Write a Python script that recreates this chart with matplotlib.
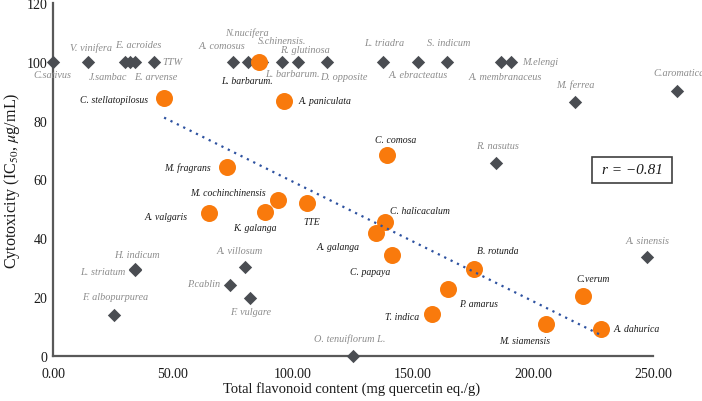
import numpy as np
import matplotlib
matplotlib.use("Agg")
import matplotlib.pyplot as plt
from matplotlib.patches import Rectangle

# Plants without a significant flavonoid/cytotoxicity relation (grey diamonds)
gray_names = ["C.sativus", "V. vinifera", "J.sambac", "E. acroides", "E. arvense", "TTW",
              "A. comosus", "N.nucifera", "L. barbarum.", "S.chinensis.", "R. glutinosa",
              "D. opposite", "L. triadra", "A. ebracteatus", "S. indicum", "A. membranaceus",
              "M.elengi", "M. ferrea", "C.aromatica", "R. nasutus", "A. sinensis",
              "H. indicum", "L. striatum", "F. albopurpurea", "A. villosum", "P.cablin",
              "F. vulgare", "O. tenuiflorum L."]
gray_x = [0.0, 14.6, 30.0, 32.0, 34.0, 42.0,
          75.0, 81.3, 87.0, 95.4, 102.0,
          114.0, 137.5, 152.0, 164.0, 186.7,
          191.0, 217.5, 260.0, 184.6, 247.5,
          34.2, 34.0, 25.4, 80.0, 73.8,
          82.0, 125.0]
gray_y = [100, 100, 100, 100, 100, 100,
          100, 100, 100, 100, 100,
          100, 100, 100, 100, 100,
          100, 86.4, 90.0, 65.6, 33.7,
          29.3, 29.5, 13.9, 30.3, 24.1,
          19.8, 0.0]

# Plants used for the correlation (orange circles)
orange_names = ["L. barbarum.", "A. paniculata", "C. stellatopilosus", "C. comosa", "M. fragrans",
                "M. cochinchinensis", "A. valgaris", "K. galanga", "TTE", "C. halicacalum",
                "A. galanga", "C. papaya", "B. rotunda", "P. amarus", "T. indica",
                "C.verum", "M. siamensis", "A. dahurica"]
orange_x = [86.0, 96.3, 46.3, 139.0, 72.3,
            93.8, 65.0, 88.3, 106.0, 138.3,
            134.6, 141.2, 175.4, 164.6, 158.0,
            221.0, 205.4, 228.3]
orange_y = [100.0, 86.7, 87.8, 68.4, 64.3,
            53.0, 48.6, 49.0, 52.0, 45.5,
            41.8, 34.4, 29.6, 22.8, 14.3,
            20.4, 10.9, 9.2]

r_value = -0.81
x_ticks = [0, 50, 100, 150, 200, 250]
y_ticks = [0, 20, 40, 60, 80, 100, 120]

# label placement (pixel offsets from the marker, alignment)
gray_offsets = [(-1, -13, "center"), (3, 15, "center"), (-17, -15, "center"), (9, 17, "center"),
                (21, -15, "center"), (9, 0, "left"), (-11, 16, "center"), (-1, 30, "center"),
                (31, -12, "center"), (0, 21, "center"), (7, 12, "center"), (17, -15, "center"),
                (1, 19, "center"), (0, -13, "center"), (2, 19, "center"), (4, -15, "center"),
                (11, 0, "left"), (0, 18, "center"), (2, 19, "center"), (1, 18, "center"),
                (1, 16, "center"), (2, 15, "center"), (-9, -2, "right"), (1, 19, "center"),
                (-5, 16, "center"), (-10, 2, "right"), (1, -14, "center"), (-3, 18, "center")]
orange_offsets = [(-12, -19, "center"), (14, 0, "left"), (-16, -2, "right"), (9, 15, "center"),
                  (-16, 0, "right"), (-50, 8, "center"), (-21, -3, "right"), (-10, -16, "center"),
                  (4, -18, "center"), (35, 12, "center"), (-38, -13, "center"), (-22, -17, "center"),
                  (24, 18, "center"), (30, -15, "center"), (-13, -3, "right"), (10, 17, "center"),
                  (-21, -17, "center"), (13, 0, "left")]

plt.rcParams["font.family"] = ["Liberation Serif", "DejaVu Serif"]
plt.rcParams["mathtext.fontset"] = "stix"

fig = plt.figure(figsize=(7.02, 4.02), dpi=100)
ax = fig.add_axes([53 / 702, 1 - 357 / 402, 600 / 702, 353 / 402])

orange = "#F97A0C"
diamond = "#4A4D52"

ax.scatter(gray_x, gray_y, marker="D", s=46, color=diamond, zorder=3, clip_on=False, linewidths=0)
ax.scatter(orange_x, orange_y, marker="o", s=150, color=orange, zorder=4, clip_on=False, linewidths=0)

# linear trend over the orange group
slope, intercept = np.polyfit(orange_x, orange_y, 1)
xs = np.array([min(orange_x), max(orange_x)])
ax.plot(xs, slope * xs + intercept, linestyle=(0, (1, 2.2)), color="#2E52A0", lw=1.6, zorder=5)

for name, x, y, (dx, dy, ha) in zip(gray_names, gray_x, gray_y, gray_offsets):
    ax.annotate(name, (x, y), xytext=(dx, dy), textcoords="offset pixels", ha=ha, va="center",
                fontsize=7.4, style="italic", color="#8C8C8C", annotation_clip=False)
for name, x, y, (dx, dy, ha) in zip(orange_names, orange_x, orange_y, orange_offsets):
    ax.annotate(name, (x, y), xytext=(dx, dy), textcoords="offset pixels", ha=ha, va="center",
                fontsize=7, style="italic", color="#1A1A1A", annotation_clip=False)

ax.set_xlim(0, 250)
ax.set_ylim(0, 120)
ax.set_xticks(x_ticks)
ax.set_xticklabels([f"{v:.2f}" for v in x_ticks])
ax.set_yticks(y_ticks)
ax.tick_params(length=0, labelsize=10, colors="#1A1A1A")
ax.tick_params(axis="x", pad=8)
ax.tick_params(axis="y", pad=4)

for side in ["top", "right"]:
    ax.spines[side].set_visible(False)
for side in ["left", "bottom"]:
    ax.spines[side].set_color("#595959")
    ax.spines[side].set_linewidth(1.6)

ax.set_xlabel("Total flavonoid content (mg quercetin eq./g)", fontsize=10.5, color="#1A1A1A")
ax.set_ylabel("Cytotoxicity (IC$_{50}$, $\\mu$g/mL)", fontsize=11.6, color="#1A1A1A")
ax.xaxis.set_label_coords(0.498, -0.071)
ax.yaxis.set_label_coords(-0.052, 0.5)

# correlation box
fig.patches.append(Rectangle((592 / 702, 1 - 184 / 402), 80 / 702, 26 / 402,
                             transform=fig.transFigure, fill=False, edgecolor="#404040", lw=1.2))
fig.text(632 / 702, 1 - 171 / 402, f"r = \u2212{abs(r_value):.2f}", ha="center", va="center",
         fontsize=11, style="italic", color="#1A1A1A")

fig.savefig("out.png", dpi=100)
